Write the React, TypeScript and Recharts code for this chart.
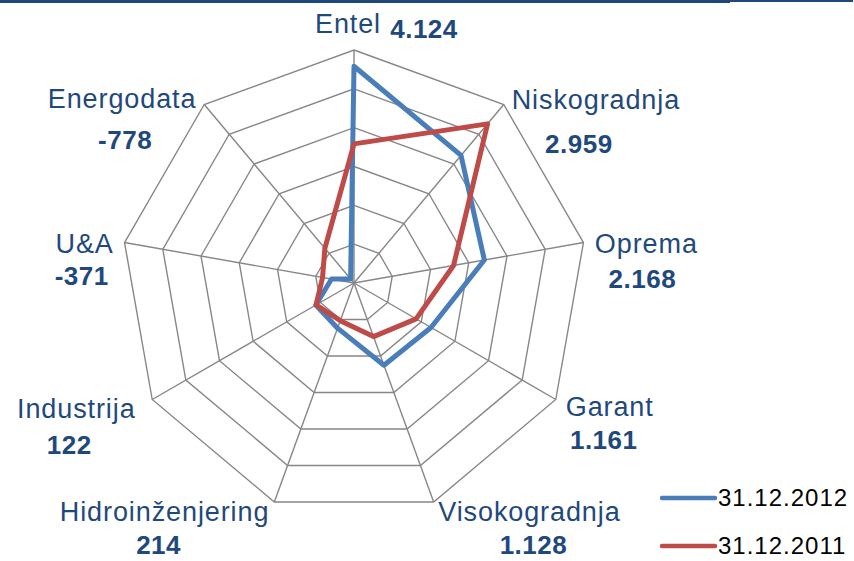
import React from "react";
import { Legend, PolarAngleAxis, PolarGrid, PolarRadiusAxis, Radar, RadarChart } from "recharts";

// companies, clockwise from the top
const companies = [
  "Entel",
  "Niskogradnja",
  "Oprema",
  "Garant",
  "Visokogradnja",
  "Hidroinženjering",
  "Industrija",
  "U&A",
  "Energodata",
];
const values2012 = [4124, 2959, 2168, 1161, 1128, 214, 122, -371, -778];
const values2011 = [2324, 3915, 1443, 762, 422, 30, 115, -160, 150];
const radiusTicks = [-900, 0, 900, 1800, 2700, 3600, 4500];
const seriesNames = ["31.12.2012", "31.12.2011"];

const BLUE = "#4A7EBB";
const RED = "#BE4B48";
const TEXT = "#1F497D";
const FONT = '"Liberation Sans", Arial, sans-serif';

// label placement relative to the angle-axis tick anchor: [name dx, name dy, value dx, value dy]
const labelOffsets: Record<string, number[]> = {
  Entel: [-6, -9, 70, -4],
  Niskogradnja: [87, 11, 70, 55],
  Oprema: [55, 12, 51, 47],
  Garant: [47, 12, 41, 45],
  Visokogradnja: [93, 12, 97, 45],
  "Hidroinženjering": [-107, 12, -113, 45],
  Industrija: [-69, 14, -76, 50],
  "U&A": [-32, 12, -35, 44],
  Energodata: [-77, 10, -74, 51],
};

const data = companies.map((name, i) => ({
  name,
  y2012: values2012[i],
  y2011: values2011[i],
}));

const fmt = (v: number) => {
  const s = Math.abs(v)
    .toString()
    .replace(/\B(?=(\d{3})+(?!\d))/g, ".");
  return (v < 0 ? "-" : "") + s;
};

// eslint-disable-next-line @typescript-eslint/no-explicit-any
const CompanyTick = (props: any) => {
  const { x, y, payload } = props;
  const i = companies.indexOf(payload.value);
  const [ndx, ndy, vdx, vdy] = labelOffsets[payload.value] || [0, 0, 0, 20];
  return (
    <g>
      <text
        x={x + ndx}
        y={y + ndy}
        textAnchor="middle"
        fill={TEXT}
        fontSize={27}
        letterSpacing={0.9}
        fontFamily={FONT}
      >
        {payload.value}
      </text>
      <text
        x={x + vdx}
        y={y + vdy}
        textAnchor="middle"
        fill={TEXT}
        fontSize={26}
        fontWeight="bold"
        letterSpacing={0.5}
        fontFamily={FONT}
      >
        {fmt(values2012[i])}
      </text>
    </g>
  );
};

const LegendBox = () => {
  const colors = [BLUE, RED];
  return (
    <div style={{ position: "absolute", left: 660, top: 474, width: 194 }}>
      {seriesNames.map((s, i) => (
        <div key={s} style={{ display: "flex", alignItems: "center", height: 48 }}>
          <svg width={58} height={10} style={{ display: "block" }}>
            <line x1={2} y1={5} x2={55} y2={5} stroke={colors[i]} strokeWidth={4.5} strokeLinecap="round" />
          </svg>
          <span
            style={{
              fontFamily: FONT,
              fontSize: 24,
              letterSpacing: 1,
              color: "#000",
              lineHeight: "24px",
            }}
          >
            {s}
          </span>
        </div>
      ))}
    </div>
  );
};

export default function App() {
  return (
    <div
      style={{
        position: "absolute",
        left: 0,
        top: 0,
        width: 854,
        height: 561,
        background: "#fff",
        overflow: "hidden",
      }}
    >
      {/* header rule */}
      <div style={{ position: "absolute", left: 0, top: 0, width: 730, height: 3, background: TEXT }} />
      <div style={{ position: "absolute", left: 730, top: 0, width: 123, height: 2, background: TEXT }} />
      <RadarChart
        width={854}
        height={561}
        data={data}
        cx={354}
        cy={283}
        outerRadius={233}
        margin={{ top: 0, right: 0, bottom: 0, left: 0 }}
      >
        <PolarGrid gridType="polygon" stroke="#878787" strokeWidth={1.4} strokeOpacity={1} />
        <PolarAngleAxis dataKey="name" tick={<CompanyTick />} tickLine={false} axisLine={false} />
        <PolarRadiusAxis
          domain={[-900, 4500]}
          ticks={radiusTicks}
          tick={false}
          axisLine={false}
        />
        <Radar
          name={seriesNames[0]}
          dataKey="y2012"
          stroke={BLUE}
          strokeWidth={5}
          strokeLinejoin="round"
          fill="none"
          fillOpacity={0}
          dot={false}
          isAnimationActive={false}
        />
        <Radar
          name={seriesNames[1]}
          dataKey="y2011"
          stroke={RED}
          strokeWidth={5}
          strokeLinejoin="round"
          fill="none"
          fillOpacity={0}
          dot={false}
          isAnimationActive={false}
        />
        <Legend content={() => <LegendBox />} wrapperStyle={{ position: "absolute", left: 0, top: 0 }} />
      </RadarChart>
    </div>
  );
}
